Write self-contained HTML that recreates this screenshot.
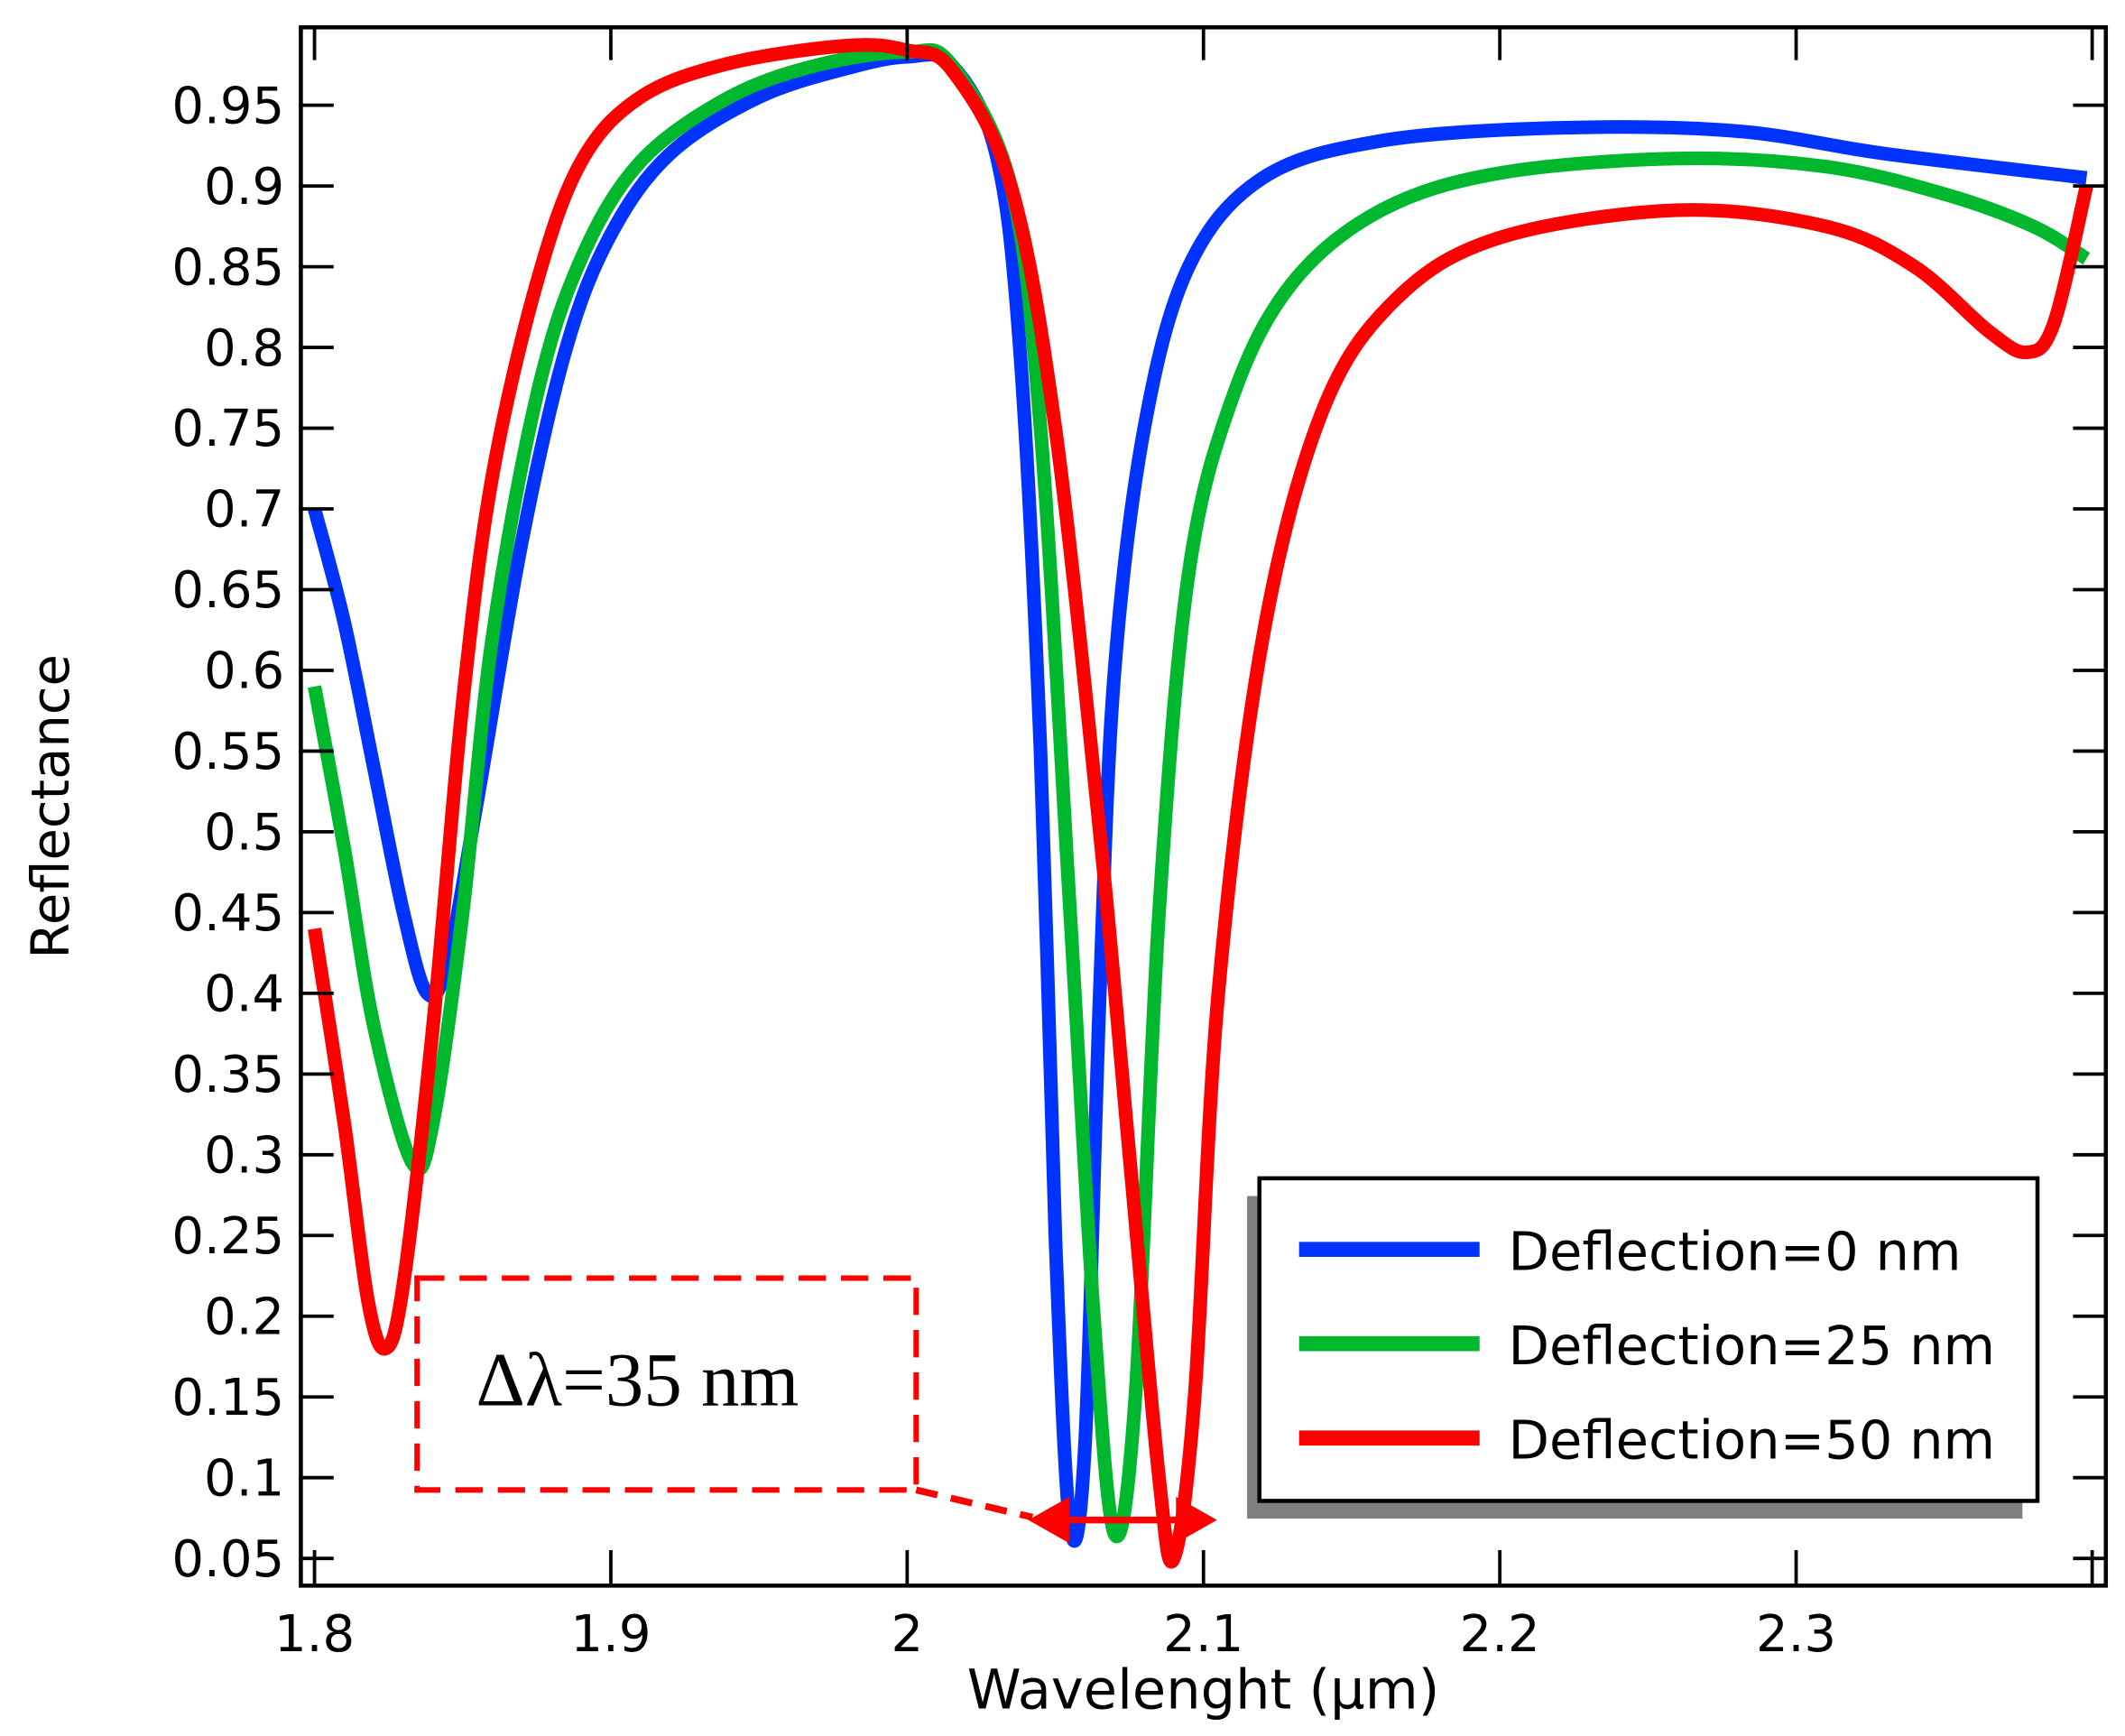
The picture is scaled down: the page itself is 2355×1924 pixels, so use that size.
<!DOCTYPE html>
<html><head><meta charset="utf-8"><style>
html,body{margin:0;padding:0;background:#fff;}
svg{display:block;}
</style></head><body>
<svg id="s" width="2355" height="1924" viewBox="0 0 1554 1270" preserveAspectRatio="none" xmlns="http://www.w3.org/2000/svg" font-family="'DejaVu Sans','Liberation Sans',sans-serif">
<rect width="1554" height="1270" fill="#fff"/>
<g id="curves"></g>
<rect x="220" y="20" width="1320" height="1140" fill="none" stroke="#000" stroke-width="3"/>
<g id="ticks" stroke="#000" stroke-width="2.5"></g>
<g id="labels" font-size="37" fill="#000"></g>
<text x="880" y="1250" font-size="40" text-anchor="middle">Wavelenght (µm)</text>
<text transform="translate(50,590) rotate(-90)" font-size="38" text-anchor="middle">Reflectance</text>
<!-- legend -->
<rect x="912" y="875" width="567" height="236" fill="#808080"/>
<rect x="921" y="862" width="569" height="236" fill="#fff" stroke="#000" stroke-width="3"/>
<line x1="950" y1="914" x2="1082" y2="914" stroke="#0033ff" stroke-width="11"/>
<line x1="950" y1="983" x2="1082" y2="983" stroke="#00b82e" stroke-width="11"/>
<line x1="950" y1="1052" x2="1082" y2="1052" stroke="#ff0000" stroke-width="11"/>
<text x="1103" y="929" font-size="39">Deflection=0 nm</text>
<text x="1103" y="998" font-size="39">Deflection=25 nm</text>
<text x="1103" y="1067" font-size="39">Deflection=50 nm</text>
<!-- annotation -->
<rect x="305" y="935" width="365" height="155" fill="none" stroke="#ff0000" stroke-width="4" stroke-dasharray="20,11"/>
<line x1="670" y1="1090" x2="755" y2="1110" stroke="#ff0000" stroke-width="5" stroke-dasharray="16,10"/>
<line x1="775" y1="1112" x2="870" y2="1112" stroke="#ff0000" stroke-width="5"/>
<polygon points="752,1112 782,1095 782,1129" fill="#ff0000"/>
<polygon points="890,1112 860,1095 860,1129" fill="#ff0000"/>
<text x="348" y="1028" font-size="56" font-family="'Liberation Serif',serif">Δλ=35 nm</text>
</svg>
<script>
var NS="http://www.w3.org/2000/svg";
function X(v){return 230+(v-1.8)*2167;}
function Y(v){return 77+(0.95-v)/0.05*59.06;}
function el(p,n,a){var e=document.createElementNS(NS,n);for(var k in a)e.setAttribute(k,a[k]);p.appendChild(e);return e;}
var ticks=document.getElementById('ticks'),labels=document.getElementById('labels');
for(var i=0;i<=18;i++){var v=0.05+i*0.05,y=Y(v);
 el(ticks,'line',{x1:220,y1:y,x2:244,y2:y});el(ticks,'line',{x1:1516,y1:y,x2:1540,y2:y});
 var t=el(labels,'text',{x:208,y:y+13,'text-anchor':'end'});t.textContent=(Math.round(v*100)/100).toString();}
for(var i=0;i<=5;i++){var v=1.8+i*0.1,x=X(v);
 el(ticks,'line',{x1:x,y1:1160,x2:x,y2:1134});el(ticks,'line',{x1:x,y1:20,x2:x,y2:44});
 var t=el(labels,'text',{x:x,y:1208,'text-anchor':'middle'});t.textContent=(Math.round(v*10)/10).toString();}
el(ticks,'line',{x1:1530,y1:1160,x2:1530,y2:1134});el(ticks,'line',{x1:1530,y1:20,x2:1530,y2:44});
var B=[[1.80,0.70],[1.81,0.63],[1.82,0.54],[1.83,0.45],[1.838,0.40],[1.845,0.42],[1.855,0.52],[1.87,0.68],[1.885,0.80],[1.90,0.87],[1.92,0.92],[1.95,0.955],[1.98,0.973],[2.0,0.98],[2.015,0.975],[2.03,0.92],[2.038,0.80],[2.045,0.55],[2.05,0.25],[2.055,0.07],[2.06,0.12],[2.065,0.4],[2.07,0.6],[2.08,0.75],[2.095,0.85],[2.12,0.905],[2.16,0.928],[2.22,0.936],[2.28,0.934],[2.33,0.92],[2.398,0.905]];
var G=[[1.80,0.59],[1.81,0.49],[1.82,0.38],[1.833,0.295],[1.84,0.32],[1.85,0.45],[1.86,0.62],[1.875,0.77],[1.89,0.855],[1.91,0.915],[1.94,0.955],[1.97,0.975],[2.0,0.983],[2.015,0.975],[2.035,0.9],[2.045,0.75],[2.055,0.45],[2.063,0.2],[2.07,0.065],[2.077,0.15],[2.085,0.45],[2.095,0.66],[2.11,0.77],[2.13,0.84],[2.16,0.885],[2.2,0.908],[2.26,0.917],[2.31,0.912],[2.35,0.895],[2.38,0.875],[2.398,0.855]];
var R=[[1.80,0.44],[1.81,0.32],[1.818,0.21],[1.824,0.18],[1.83,0.22],[1.84,0.38],[1.85,0.58],[1.86,0.72],[1.875,0.84],[1.89,0.915],[1.91,0.955],[1.94,0.976],[1.98,0.987],[2.0,0.984],[2.015,0.972],[2.035,0.9],[2.05,0.75],[2.065,0.5],[2.075,0.3],[2.085,0.1],[2.09,0.05],[2.097,0.15],[2.105,0.4],[2.12,0.62],[2.14,0.76],[2.165,0.83],[2.2,0.868],[2.26,0.885],[2.31,0.875],[2.34,0.85],[2.365,0.81],[2.378,0.797],[2.387,0.815],[2.398,0.9]];
function path(pts){var p=pts.map(function(a){return [X(a[0]),Y(a[1])];});var d='M'+p[0][0]+','+p[0][1];
 for(var i=0;i<p.length-1;i++){var p0=p[i-1]||p[i],p1=p[i],p2=p[i+1],p3=p[i+2]||p2;
  d+=' C'+(p1[0]+(p2[0]-p0[0])/6)+','+(p1[1]+(p2[1]-p0[1])/6)+' '+(p2[0]-(p3[0]-p1[0])/6)+','+(p2[1]-(p3[1]-p1[1])/6)+' '+p2[0]+','+p2[1];}
 return d;}
var c=document.getElementById('curves');
[[B,'#0033ff'],[G,'#00b82e'],[R,'#ff0000']].forEach(function(s){el(c,'path',{d:path(s[0]),fill:'none',stroke:s[1],'stroke-width':10,'stroke-linejoin':'round'});});
</script>
</body></html>
